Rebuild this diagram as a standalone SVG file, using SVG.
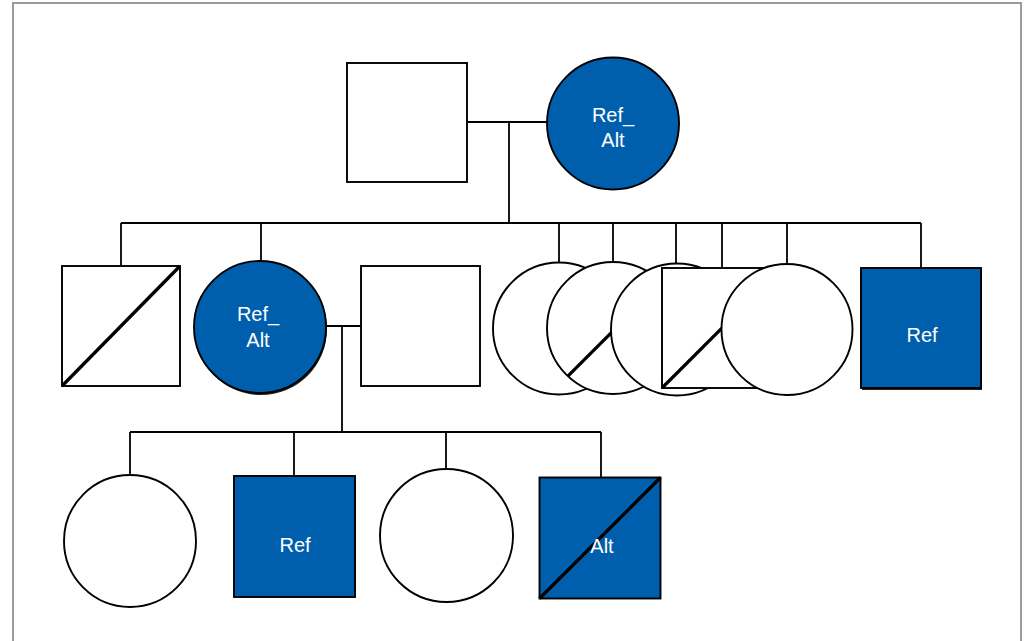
<svg xmlns="http://www.w3.org/2000/svg" width="1025" height="641" viewBox="0 0 1025 641">
  <style>
    .frame { fill: #ffffff; stroke: #9a9a9a; stroke-width: 2; }
    .line { fill: none; stroke: #000; stroke-width: 1.8; }
    .shape { fill: #ffffff; stroke: #000; stroke-width: 1.9; }
    .aff { fill: #005FAD; stroke: #000; stroke-width: 1.9; }
    .shadow { fill: #222; stroke: none; }
    .dead { stroke: #000; stroke-width: 3.3; stroke-linecap: butt; }
    .lbl { font-family: "Liberation Sans", Arial, sans-serif; font-size: 20px; fill: #ffffff; text-anchor: middle; }
  </style>
  <defs>
    <clipPath id="clipB"><circle cx="613" cy="328" r="66"/></clipPath>
  </defs>

  <rect class="frame" x="13" y="3" width="1008" height="660"/>

  <!-- connectors -->
  <g id="connectors">
    <!-- generation I couple and descent -->
    <path class="line" d="M467 122 H547"/>
    <path class="line" d="M509 122 V223"/>
    <!-- generation II sibship -->
    <path class="line" d="M121 223 H921"/>
    <path class="line" d="M121 223 V266"/>
    <path class="line" d="M261 223 V262"/>
    <path class="line" d="M559 223 V262"/>
    <path class="line" d="M613 223 V262"/>
    <path class="line" d="M676 223 V264"/>
    <path class="line" d="M722 223 V268"/>
    <path class="line" d="M787 223 V264"/>
    <path class="line" d="M921 223 V268"/>
    <!-- generation II couple and descent -->
    <path class="line" d="M326 326 H361"/>
    <path class="line" d="M342 326 V432"/>
    <!-- generation III sibship -->
    <path class="line" d="M130 432 H601"/>
    <path class="line" d="M130 432 V476"/>
    <path class="line" d="M294 432 V476"/>
    <path class="line" d="M446 432 V470"/>
    <path class="line" d="M601 432 V477"/>
  </g>

  <!-- generation I -->
  <g id="I-1">
    <rect class="shape" x="347" y="63" width="120" height="119"/>
  </g>
  <g id="I-2">
    <circle class="aff" cx="613" cy="123.5" r="66"/>
    <text class="lbl" x="613" y="122">Ref_</text>
    <text class="lbl" x="613" y="147">Alt</text>
  </g>

  <!-- generation II -->
  <g id="II-1">
    <rect class="shape" x="62" y="266" width="118" height="120"/>
    <line class="dead" x1="62" y1="386" x2="180" y2="266"/>
  </g>
  <g id="II-2">
    <circle class="shadow" cx="261" cy="329" r="66"/>
    <circle class="aff" cx="260" cy="327" r="66"/>
    <text class="lbl" x="258" y="321">Ref_</text>
    <text class="lbl" x="258" y="347">Alt</text>
  </g>
  <g id="II-3">
    <rect class="shape" x="361" y="266" width="119" height="120"/>
  </g>
  <g id="II-4">
    <circle class="shape" cx="559" cy="328.5" r="66"/>
  </g>
  <g id="II-5">
    <circle class="shape" cx="613" cy="328" r="66"/>
    <line class="dead" clip-path="url(#clipB)" x1="546" y1="398" x2="683" y2="261"/>
  </g>
  <g id="II-6">
    <circle class="shape" cx="677" cy="329.5" r="66"/>
  </g>
  <g id="II-7">
    <rect class="shape" x="662" y="268" width="120" height="120"/>
    <line class="dead" x1="662" y1="388" x2="782" y2="268"/>
  </g>
  <g id="II-8">
    <circle class="shape" cx="787" cy="329.5" r="65.5"/>
  </g>
  <g id="II-9">
    <rect class="shadow" x="862" y="270" width="120" height="120"/>
    <rect class="aff" x="861" y="268" width="120" height="120"/>
    <text class="lbl" x="922" y="342">Ref</text>
  </g>

  <!-- generation III -->
  <g id="III-1">
    <circle class="shape" cx="130" cy="541" r="66"/>
  </g>
  <g id="III-2">
    <rect class="aff" x="234" y="476" width="121" height="121"/>
    <text class="lbl" x="295" y="552">Ref</text>
  </g>
  <g id="III-3">
    <circle class="shape" cx="446.5" cy="535.5" r="66.5"/>
  </g>
  <g id="III-4">
    <rect class="aff" x="539.5" y="477.5" width="121" height="121"/>
    <line class="dead" x1="539.5" y1="598.5" x2="660.5" y2="477.5"/>
    <text class="lbl" x="602" y="553">Alt</text>
  </g>
</svg>
